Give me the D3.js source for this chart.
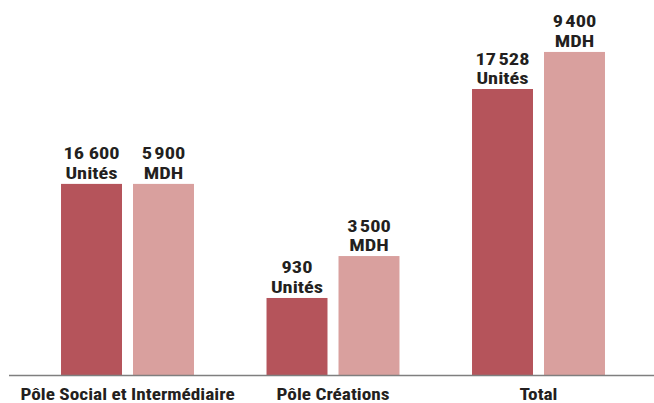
<!DOCTYPE html>
<html>
<head>
<meta charset="utf-8">
<script src="https://cdn.jsdelivr.net/npm/d3@7"></script>
<style>
  body { margin: 0; background: #fff; }
  text { font-family: "Liberation Sans Narrow", "Roboto Condensed", "Arial Narrow", sans-serif; font-weight: bold; fill: #231f20; }
</style>
</head>
<body>
<svg width="654" height="403"></svg>
<script>
// categories and series
var categories = ["Pôle Social et Intermédiaire", "Pôle Créations", "Total"];
var series = ["unites", "mdh"];
var unitesLabels = ["16 600", "930", "17\u202F528"];
var mdhLabels = ["5\u202F900", "3\u202F500", "9\u202F400"];
var unitesUnit = "Unités";
var mdhUnit = "MDH";
// bar levels as drawn in the picture (0-100 index, not proportional to the labels)
var unitesLevel = [58.8, 23.7, 88.0];
var mdhLevel = [58.8, 36.6, 99.4];

var colors = {unites: "#b5545b", mdh: "#d9a09e"};

var svg = d3.select("svg"),
    baseline = 375,
    stretch = 1.2;

var x0 = d3.scaleBand()
    .domain(categories)
    .range([24.75, 641.25])
    .paddingInner(0.353)
    .paddingOuter(0.1765);

var x1 = d3.scaleBand()
    .domain(series)
    .range([0, x0.bandwidth()])
    .paddingInner(0.153);

var y = d3.scaleLinear()
    .domain([0, 100])
    .range([baseline, 50]);

var rows = categories.map(function(c, i) {
  return {
    cat: c,
    bars: [
      {key: "unites", level: unitesLevel[i], label: unitesLabels[i], unit: unitesUnit},
      {key: "mdh", level: mdhLevel[i], label: mdhLabels[i], unit: mdhUnit}
    ]
  };
});

var groups = svg.selectAll("g.group")
    .data(rows)
    .enter().append("g")
    .attr("class", "group")
    .attr("transform", function(d) { return "translate(" + x0(d.cat) + ",0)"; });

groups.selectAll("rect")
    .data(function(d) { return d.bars; })
    .enter().append("rect")
    .attr("x", function(d) { return x1(d.key); })
    .attr("y", function(d) { return y(d.level); })
    .attr("width", x1.bandwidth())
    .attr("height", function(d) { return baseline - y(d.level); })
    .attr("fill", function(d) { return colors[d.key]; });

// value line and unit line, one text each
function labelPos(d, dy) {
  return "translate(" + (x1(d.key) + x1.bandwidth() / 2) + "," + (y(d.level) + dy) + ") scale(" + stretch + ",1)";
}

groups.selectAll("text.val")
    .data(function(d) { return d.bars; })
    .enter().append("text")
    .attr("class", "val")
    .attr("text-anchor", "middle")
    .attr("transform", function(d) { return labelPos(d, -24.5); })
    .style("font-size", "17px")
    .text(function(d) { return d.label; });

groups.selectAll("text.unit")
    .data(function(d) { return d.bars; })
    .enter().append("text")
    .attr("class", "unit")
    .attr("text-anchor", "middle")
    .attr("transform", function(d) { return labelPos(d, -5); })
    .style("font-size", "17px")
    .text(function(d) { return d.unit; });

// baseline
svg.append("line")
    .attr("x1", 9)
    .attr("x2", 654)
    .attr("y1", baseline + 0.5)
    .attr("y2", baseline + 0.5)
    .attr("stroke", "#7f7f7f")
    .attr("stroke-width", 1.6);

// category labels
svg.selectAll("text.cat")
    .data(categories)
    .enter().append("text")
    .attr("class", "cat")
    .attr("transform", function(d) {
      return "translate(" + (x0(d) + x0.bandwidth() / 2) + ",400) scale(1.17,1)";
    })
    .attr("text-anchor", "middle")
    .style("font-size", "16.5px")
    .text(function(d) { return d; });
</script>
</body>
</html>
